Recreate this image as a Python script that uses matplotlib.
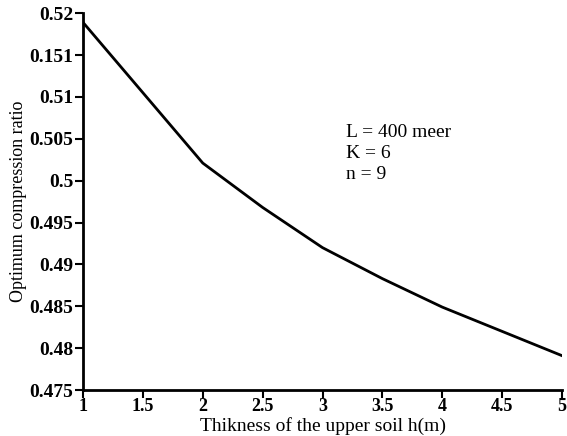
import matplotlib
matplotlib.use("Agg")
import matplotlib.pyplot as plt

# thickness of the upper soil h (m) and optimum compression ratio
thickness = [1.0, 2.0, 2.5, 3.0, 3.5, 4.0, 4.5, 5.0]
ratio = [0.5189, 0.5021, 0.4968, 0.4920, 0.4883, 0.4849, 0.4820, 0.4791]

x_ticks = [1, 1.5, 2, 2.5, 3, 3.5, 4, 4.5, 5]
x_labels = ["1", "1.5", "2", "2.5", "3", "3.5", "4", "4.5", "5"]
y_ticks = [0.475, 0.48, 0.485, 0.49, 0.495, 0.5, 0.505, 0.51, 0.515, 0.52]
y_labels = ["0.475", "0.48", "0.485", "0.49", "0.495", "0.5", "0.505", "0.51", "0.151", "0.52"]

notes = ["L = 400 meer", "K = 6", "n = 9"]

plt.rcParams["font.family"] = ["Liberation Serif", "DejaVu Serif"]

fig = plt.figure(figsize=(5.67, 4.36), dpi=100)
ax = fig.add_axes([0.1464, 0.1055, 0.8448, 0.8643])

ax.plot(thickness, ratio, color="black", linewidth=2.0)

ax.set_xlim(1, 5)
ax.set_ylim(0.475, 0.52)
ax.set_xticks(x_ticks, labels=x_labels)
ax.set_yticks(y_ticks, labels=y_labels)
for lab in ax.get_yticklabels():
    lab.set_fontweight("bold")
    lab.set_fontsize(14)
for lab in ax.get_xticklabels():
    lab.set_fontweight("bold")
    lab.set_fontsize(13)

ax.spines["top"].set_visible(False)
ax.spines["right"].set_visible(False)
ax.spines["left"].set_linewidth(2)
ax.spines["bottom"].set_linewidth(2)
ax.tick_params(direction="out", length=6, width=1.5, pad=1)
ax.tick_params(axis="x", pad=0)

ax.set_xlabel("Thikness of the upper soil h(m)", fontsize=14, labelpad=1)
ax.set_ylabel("Optimum compression ratio", fontsize=13, labelpad=2)

for i, line in enumerate(notes):
    ax.text(0.549, 0.683 - i * 0.055, line, transform=ax.transAxes,
            fontsize=14, va="center", ha="left")

fig.savefig("out.png", dpi=100)
